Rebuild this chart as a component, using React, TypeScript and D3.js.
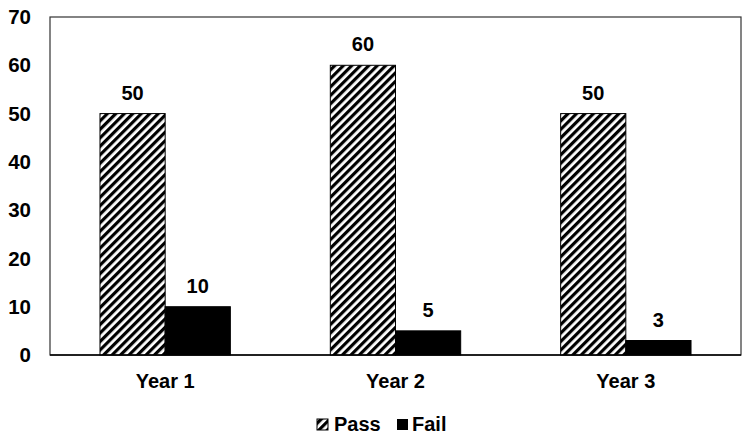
import * as d3 from "d3";

const years = ["Year 1", "Year 2", "Year 3"];
const series = ["Pass", "Fail"];
const passValues = [50, 60, 50];
const failValues = [10, 5, 3];
const yTicks = [0, 10, 20, 30, 40, 50, 60, 70];

const W = 752;
const H = 444;
const left = 50;
const right = 741;
const top = 17;
const bottom = 355;
const font = "'Liberation Sans', Arial, sans-serif";

export default function App() {
  const x = d3.scaleBand<string>().domain(years).range([left, right]).paddingInner(0.434).paddingOuter(0.217);
  const xs = d3.scaleBand<string>().domain(series).range([0, x.bandwidth()]);
  const y = d3.scaleLinear().domain([0, 70]).range([bottom, top]);

  const rows = years.map((yr, i) => ({ yr, values: [passValues[i], failValues[i]] }));
  const fills = ["url(#hatch)", "#000"];

  return (
    <div style={{ position: "fixed", left: 0, top: 0 }}>
      <svg width={W} height={H} style={{ display: "block", background: "#fff" }}>
        <defs>
          <pattern id="hatch" patternUnits="userSpaceOnUse" width={6} height={6} patternTransform="rotate(45)">
            <rect width={6} height={6} fill="#fff" />
            <line x1={1.6} y1={0} x2={1.6} y2={6} stroke="#000" strokeWidth={3.2} />
          </pattern>
        </defs>
        <rect x={left} y={top} width={right - left} height={bottom - top} fill="none" stroke="#333" strokeWidth={1.2} />
        {yTicks.map((t) => (
          <text key={t} x={31} y={y(t)} dy="0.35em" textAnchor="end" fontFamily={font} fontWeight="bold" fontSize={20.5} fill="#000">
            {t}
          </text>
        ))}
        {rows.map((r) => (
          <g key={r.yr} transform={`translate(${x(r.yr)},0)`}>
            {r.values.map((v, j) => (
              <g key={j}>
                <rect x={xs(series[j])} y={y(v)} width={xs.bandwidth()} height={bottom - y(v)} fill={fills[j]} stroke="#000" strokeWidth={1} />
                <text x={(xs(series[j]) ?? 0) + xs.bandwidth() / 2} y={y(v) - 14} textAnchor="middle" fontFamily={font} fontWeight="bold" fontSize={20} fill="#000">
                  {v}
                </text>
              </g>
            ))}
            <text x={x.bandwidth() / 2} y={388} textAnchor="middle" fontFamily={font} fontWeight="bold" fontSize={20} fill="#000">
              {r.yr}
            </text>
          </g>
        ))}
        <line x1={left} x2={right} y1={bottom} y2={bottom} stroke="#000" strokeWidth={1.5} />
        <g fontFamily={font} fontWeight="bold" fontSize={20}>
          <rect x={317} y={419} width={11} height={11} fill="url(#hatch)" stroke="#000" strokeWidth={1} />
          <text x={334} y={431}>{series[0]}</text>
          <rect x={397} y={419} width={11} height={11} fill="#000" />
          <text x={412} y={431}>{series[1]}</text>
        </g>
      </svg>
    </div>
  );
}
